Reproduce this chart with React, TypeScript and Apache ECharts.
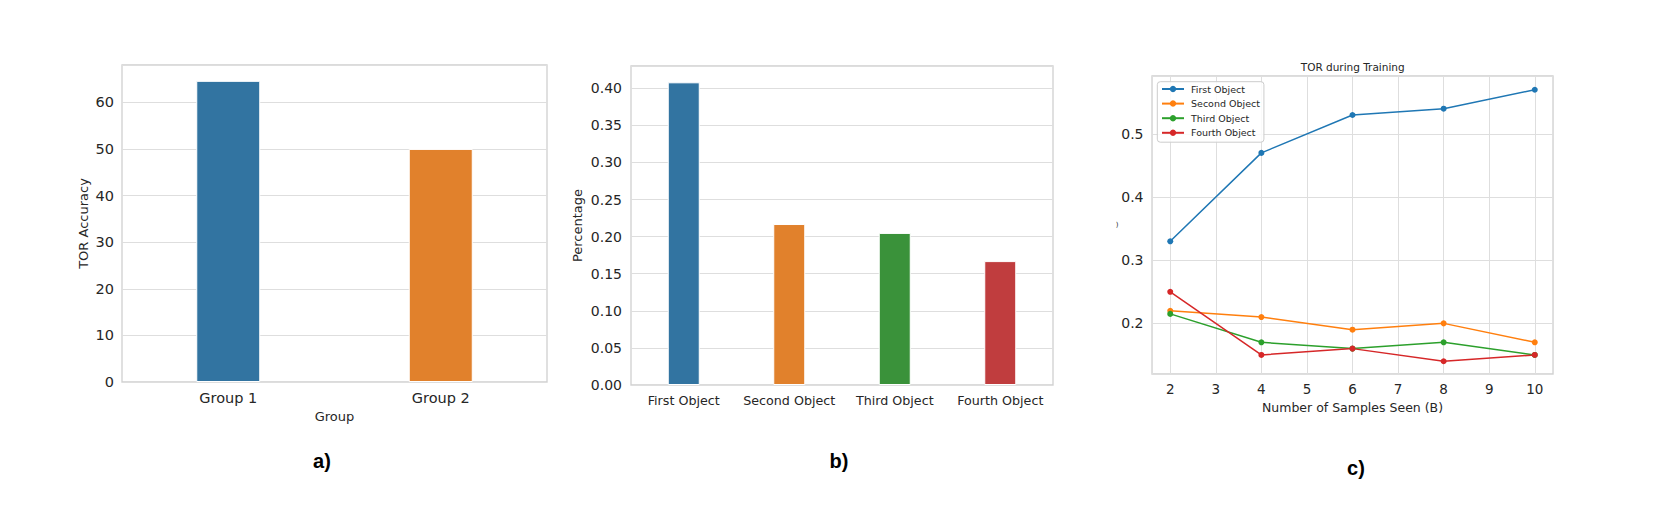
import React, { useEffect, useRef } from "react";
import * as echarts from "echarts";

// ---- Data ----
const groupCategories = ["Group 1", "Group 2"];
const groupAccuracy = [64.6, 50.0];

const objectCategories = ["First Object", "Second Object", "Third Object", "Fourth Object"];
const objectPercentage = [0.408, 0.217, 0.205, 0.167];

const samplesSeen = [2, 4, 6, 8, 10];
const firstObjectTOR = [0.33, 0.47, 0.53, 0.54, 0.57];
const secondObjectTOR = [0.22, 0.21, 0.19, 0.2, 0.17];
const thirdObjectTOR = [0.215, 0.17, 0.16, 0.17, 0.15];
const fourthObjectTOR = [0.25, 0.15, 0.16, 0.14, 0.15];
const lineSeriesNames = ["First Object", "Second Object", "Third Object", "Fourth Object"];

const panelLabels = ["a)", "b)", "c)"];

// ---- Styles ----
const barPalette = ["#3274a1", "#e1812c", "#3a923a", "#c03d3e"];
const linePalette = ["#1f77b4", "#ff7f0e", "#2ca02c", "#d62728"];
const FONT = "DejaVu Sans";
const TXT = "#262626";
const GRIDC = "#dedede";
const SPINE = "#d0d0d0";

export default function App() {
  const ref = useRef<HTMLDivElement>(null);

  useEffect(() => {
    if (!ref.current) return;
    const chart = echarts.init(ref.current, undefined, { renderer: "svg" });

    const lineData = [firstObjectTOR, secondObjectTOR, thirdObjectTOR, fourthObjectTOR];

    const gridBase = {
      show: true,
      borderColor: SPINE,
      borderWidth: 1.3,
      backgroundColor: "transparent",
      containLabel: false,
    };

    const hiddenLine = { show: false };
    const splitLine = { show: true, lineStyle: { color: GRIDC, width: 1 } };

    const option: any = {
      animation: false,
      backgroundColor: "#ffffff",
      textStyle: { fontFamily: FONT, color: TXT },
      grid: [
        { ...gridBase, left: 122, top: 65, width: 425, height: 317 },
        { ...gridBase, left: 631, top: 66, width: 422, height: 319 },
        { ...gridBase, left: 1152, top: 76, width: 401, height: 298 },
      ],
      xAxis: [
        {
          gridIndex: 0,
          type: "category",
          data: groupCategories,
          axisLine: hiddenLine,
          axisTick: { show: false },
          splitLine: { show: false },
          axisLabel: { color: TXT, fontFamily: FONT, fontSize: 14.5, margin: 8, interval: 0 },
          name: "Group",
          nameLocation: "middle",
          nameGap: 27,
          nameTextStyle: { color: TXT, fontFamily: FONT, fontSize: 13 },
        },
        {
          gridIndex: 1,
          type: "category",
          data: objectCategories,
          axisLine: hiddenLine,
          axisTick: { show: false },
          splitLine: { show: false },
          axisLabel: { color: TXT, fontFamily: FONT, fontSize: 12.7, margin: 8.5, interval: 0 },
        },
        {
          gridIndex: 2,
          type: "value",
          min: 1.6,
          max: 10.4,
          splitNumber: 8,
          axisLine: hiddenLine,
          axisTick: { show: false },
          splitLine,
          axisLabel: {
            color: TXT,
            fontFamily: FONT,
            fontSize: 13.5,
            margin: 8,
            showMinLabel: false,
            showMaxLabel: false,
            formatter: (v: number) => (Math.abs(v - Math.round(v)) > 1e-6 ? "" : String(Math.round(v))),
          },
          name: "Number of Samples Seen (B)",
          nameLocation: "middle",
          nameGap: 25.5,
          nameTextStyle: { color: TXT, fontFamily: FONT, fontSize: 12.5 },
        },
      ],
      yAxis: [
        {
          gridIndex: 0,
          type: "value",
          min: 0,
          max: 68,
          interval: 10,
          axisLine: hiddenLine,
          axisTick: { show: false },
          splitLine,
          axisLabel: { color: TXT, fontFamily: FONT, fontSize: 14.5, margin: 8, showMaxLabel: false },
          name: "TOR Accuracy",
          nameLocation: "middle",
          nameGap: 32,
          nameTextStyle: { color: TXT, fontFamily: FONT, fontSize: 13 },
        },
        {
          gridIndex: 1,
          type: "value",
          min: 0,
          max: 0.43,
          interval: 0.05,
          axisLine: hiddenLine,
          axisTick: { show: false },
          splitLine,
          axisLabel: {
            color: TXT,
            fontFamily: FONT,
            fontSize: 14,
            margin: 9,
            showMaxLabel: false,
            formatter: (v: number) => v.toFixed(2),
          },
          name: "Percentage",
          nameLocation: "middle",
          nameGap: 47,
          nameTextStyle: { color: TXT, fontFamily: FONT, fontSize: 13 },
        },
        {
          gridIndex: 2,
          type: "value",
          min: 0.1198,
          max: 0.5918,
          splitNumber: 5,
          axisLine: hiddenLine,
          axisTick: { show: false },
          splitLine,
          axisLabel: {
            color: TXT,
            fontFamily: FONT,
            fontSize: 14,
            margin: 8.5,
            showMinLabel: false,
            showMaxLabel: false,
            formatter: (v: number) =>
              Math.abs(v * 10 - Math.round(v * 10)) > 1e-6 ? "" : v.toFixed(1),
          },
        },
      ],
      legend: {
        show: true,
        orient: "vertical",
        left: 1157.3,
        top: 81.7,
        padding: [2.3, 4, 4.4, 3.7],
        itemWidth: 22,
        itemHeight: 8,
        itemGap: 4.6,
        backgroundColor: "rgba(255,255,255,0.85)",
        borderColor: "#cccccc",
        borderWidth: 1,
        borderRadius: 3,
        textStyle: { color: TXT, fontFamily: FONT, fontSize: 9.5, lineHeight: 10, padding: [0, 0, 0, 2] },
        data: lineSeriesNames,
      },
      graphic: [
        {
          type: "text",
          x: 1352.7,
          y: 66.7,
          style: {
            text: "TOR during Training",
            fill: TXT,
            font: `10.5px "${FONT}"`,
            textAlign: "center",
            textVerticalAlign: "middle",
          },
        },
        {
          type: "text",
          x: 1117,
          y: 224.5,
          style: {
            text: ")",
            fill: TXT,
            font: `7px "${FONT}"`,
            textAlign: "center",
            textVerticalAlign: "middle",
          },
        },
        ...panelLabels.map((t, i) => ({
          type: "text",
          x: [322, 839, 1356][i],
          y: [461, 460.5, 467.5][i],
          style: {
            text: t,
            fill: "#000000",
            font: `bold 20px "Liberation Sans"`,
            textAlign: "center",
            textVerticalAlign: "middle",
          },
        })),
      ],
      series: [
        {
          type: "bar",
          xAxisIndex: 0,
          yAxisIndex: 0,
          barWidth: 64,
          data: groupAccuracy.map((v, i) => ({
            value: v,
            itemStyle: { color: barPalette[i], borderColor: "#ffffff", borderWidth: 1 },
          })),
        },
        {
          type: "bar",
          xAxisIndex: 1,
          yAxisIndex: 1,
          barWidth: 32,
          data: objectPercentage.map((v, i) => ({
            value: v,
            itemStyle: { color: barPalette[i], borderColor: "#ffffff", borderWidth: 1 },
          })),
        },
        ...lineSeriesNames.map((name, k) => ({
          type: "line",
          name,
          xAxisIndex: 2,
          yAxisIndex: 2,
          symbol: "circle",
          symbolSize: 6,
          showSymbol: true,
          color: linePalette[k],
          itemStyle: { color: linePalette[k] },
          lineStyle: { color: linePalette[k], width: 1.5 },
          data: samplesSeen.map((x, j) => [x, lineData[k][j]]),
        })),
      ],
    };

    chart.setOption(option);
    return () => chart.dispose();
  }, []);

  return (
    <div
      ref={ref}
      style={{ position: "fixed", left: 0, top: 0, width: 1661, height: 511, background: "#fff" }}
    />
  );
}
